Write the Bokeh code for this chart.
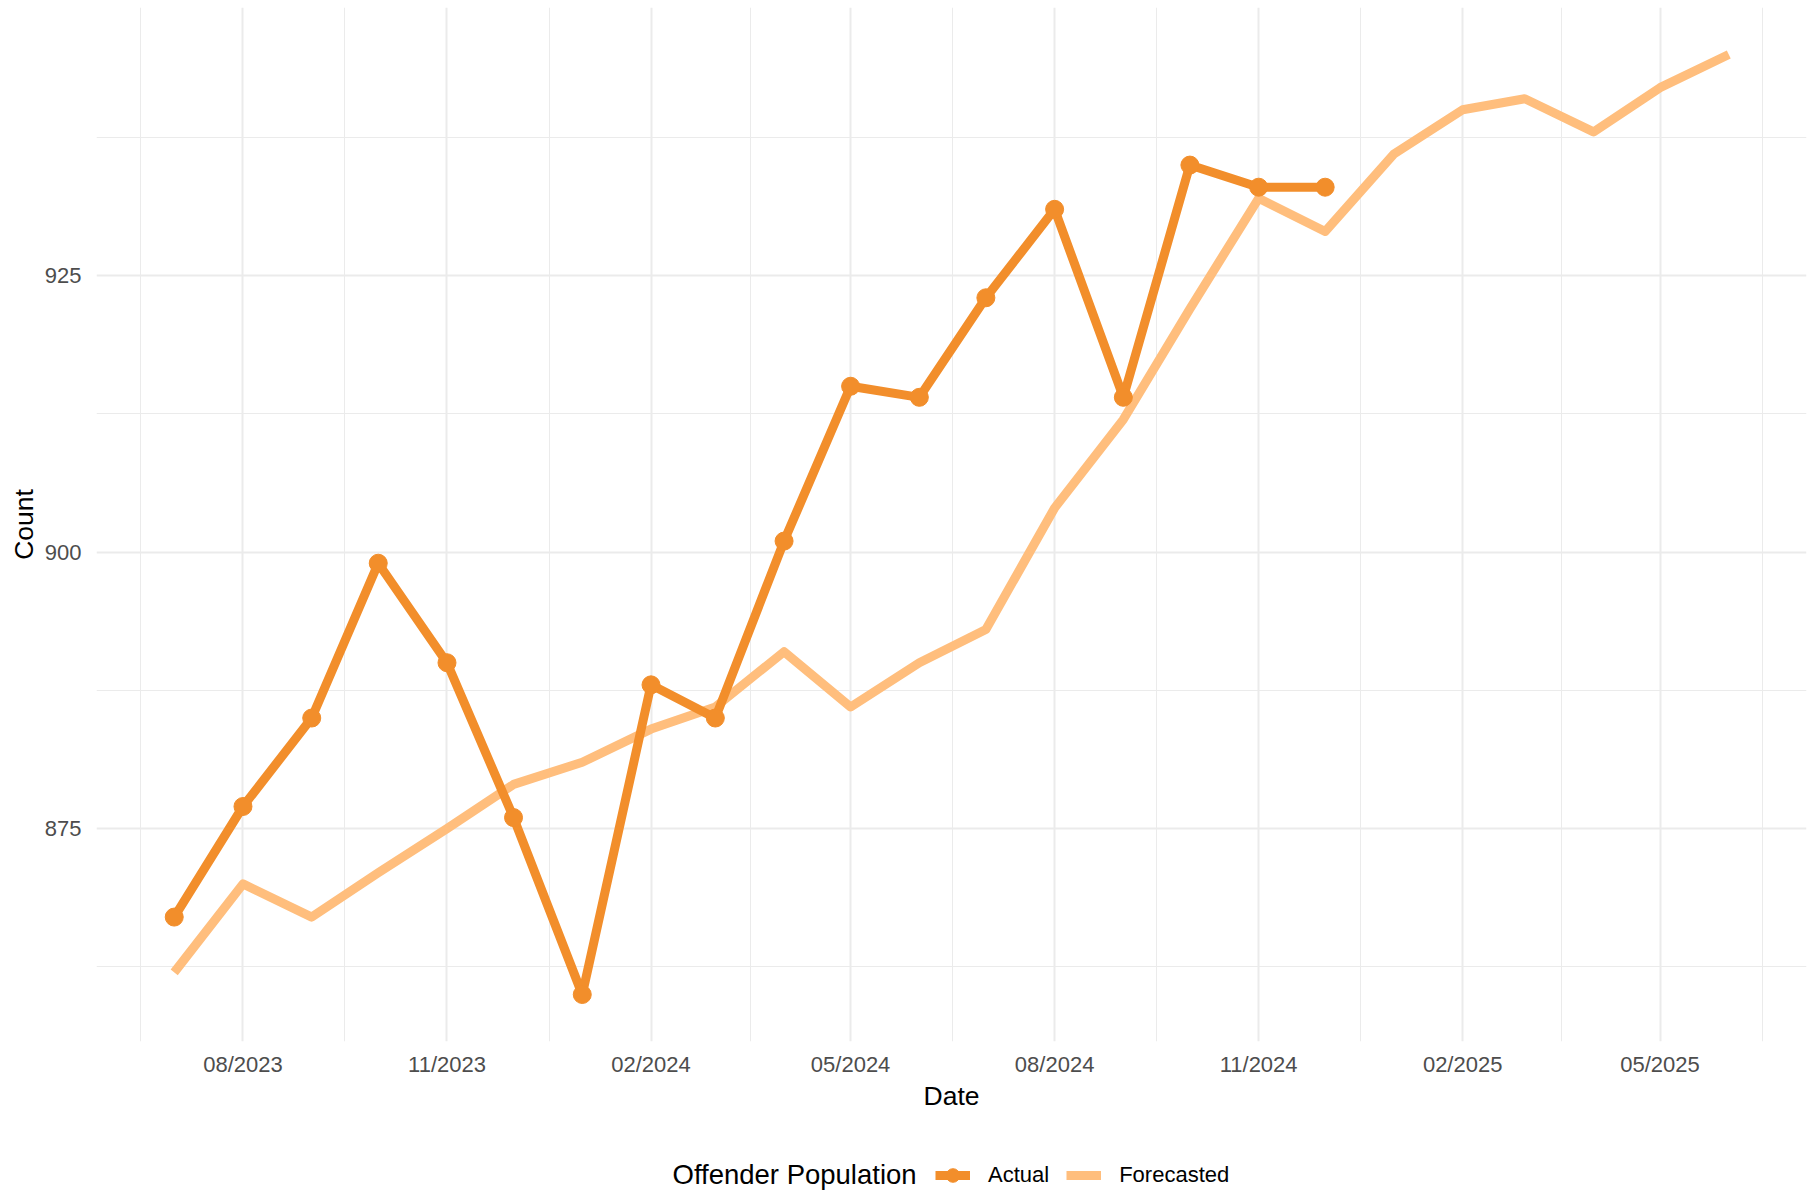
import pandas as pd
from bokeh.plotting import figure
from bokeh.layouts import column
from bokeh.models import (FixedTicker, DatetimeTickFormatter, Legend, LegendItem,
                          Label, Range1d, ColumnDataSource)
from bokeh.embed import file_html
from bokeh.resources import INLINE

# ---------------- data ----------------
actual_months = ["2023-07", "2023-08", "2023-09", "2023-10", "2023-11", "2023-12",
                 "2024-01", "2024-02", "2024-03", "2024-04", "2024-05", "2024-06",
                 "2024-07", "2024-08", "2024-09", "2024-10", "2024-11", "2024-12"]
actual_counts = [867, 877, 885, 899, 890, 876, 860, 888, 885, 901, 915, 914,
                 923, 931, 914, 935, 933, 933]

forecast_months = ["2023-07", "2023-08", "2023-09", "2023-10", "2023-11", "2023-12",
                   "2024-01", "2024-02", "2024-03", "2024-04", "2024-05", "2024-06",
                   "2024-07", "2024-08", "2024-09", "2024-10", "2024-11", "2024-12",
                   "2025-01", "2025-02", "2025-03", "2025-04", "2025-05", "2025-06"]
forecast_counts = [862, 870, 867, 871, 875, 879, 881, 884, 886, 891, 886, 890,
                   893, 904, 912, 922, 932, 929, 936, 940, 941, 938, 942, 945]

x_break_dates = ["2023-05-01", "2023-08-01", "2023-11-01", "2024-02-01", "2024-05-01",
                 "2024-08-01", "2024-11-01", "2025-02-01", "2025-05-01", "2025-08-01"]
x_break_labels = ["05/2023", "08/2023", "11/2023", "02/2024", "05/2024",
                  "08/2024", "11/2024", "02/2025", "05/2025", "08/2025"]
y_ticks = [875, 900, 925]
y_minor_ticks = [862.5, 887.5, 912.5, 937.5]

series_names = ["Actual", "Forecasted"]
legend_title = "Offender Population"

# ---------------- styles ----------------
ACTUAL_COLOR = "#F28E2B"
FORECAST_COLOR = "#FFBE7D"
GRID = "#EBEBEB"
FONT = "Liberation Sans"
LW = 9
DOT = 18


def to_ms(d):
    return pd.Timestamp(d).value // 10**6


act_dates = pd.to_datetime(actual_months)
fc_dates = pd.to_datetime(forecast_months)

src_a = ColumnDataSource(dict(x=act_dates, y=actual_counts))
src_f = ColumnDataSource(dict(x=fc_dates, y=forecast_counts))

# ggplot-like 5% expansion
span = fc_dates.max() - fc_dates.min()
x0 = fc_dates.min() - span * 0.05
x1 = fc_dates.max() + span * 0.05
all_y = actual_counts + forecast_counts
yspan = max(all_y) - min(all_y)
y0 = min(all_y) - 0.05 * yspan
y1 = max(all_y) + 0.05 * yspan

W = 1807
H_MAIN = 1140
H_LEG = 52
FRAME_LEFT = 96

p = figure(width=W, height=H_MAIN, x_axis_type="datetime",
           x_range=Range1d(x0, x1), y_range=Range1d(y0, y1),
           output_backend="svg", toolbar_location=None,
           min_border_left=FRAME_LEFT, min_border_right=1,
           min_border_top=7, min_border_bottom=H_MAIN - 1041)
p.outline_line_color = None
p.background_fill_color = "white"
p.border_fill_color = "white"

major_ms = [to_ms(d) for d in x_break_dates]
minor_ms = [(a + b) / 2 for a, b in zip(major_ms[:-1], major_ms[1:])]
p.xaxis.ticker = FixedTicker(ticks=major_ms, minor_ticks=minor_ms)
p.xaxis.formatter = DatetimeTickFormatter(
    milliseconds="%m/%Y", seconds="%m/%Y", minsec="%m/%Y", minutes="%m/%Y",
    hourmin="%m/%Y", hours="%m/%Y", days="%m/%Y", months="%m/%Y", years="%m/%Y")
p.xaxis.major_label_overrides = {float(m): lab for m, lab in zip(major_ms, x_break_labels)}
p.yaxis.ticker = FixedTicker(ticks=y_ticks, minor_ticks=y_minor_ticks)

for ax in (p.xaxis[0], p.yaxis[0]):
    ax.axis_line_color = None
    ax.major_tick_line_color = None
    ax.minor_tick_line_color = None
    ax.major_tick_out = 0
    ax.major_tick_in = 0
    ax.minor_tick_out = 0
    ax.minor_tick_in = 0
    ax.major_label_text_font = FONT
    ax.major_label_text_font_size = "22px"
    ax.major_label_text_color = "#4D4D4D"
    ax.axis_label_text_font = FONT
    ax.axis_label_text_font_size = "26.5px"
    ax.axis_label_text_font_style = "normal"
    ax.axis_label_text_color = "black"

p.xaxis.axis_label = "Date"
p.yaxis.axis_label = "Count"
p.xaxis.major_label_standoff = 10
p.xaxis.axis_label_standoff = 1
p.yaxis.major_label_standoff = 15
p.yaxis.axis_label_standoff = 3

for g in (p.xgrid[0], p.ygrid[0]):
    g.grid_line_color = GRID
    g.grid_line_width = 2
    g.minor_grid_line_color = GRID
    g.minor_grid_line_width = 1

p.line("x", "y", source=src_f, line_color=FORECAST_COLOR, line_width=LW,
       line_join="round")
p.line("x", "y", source=src_a, line_color=ACTUAL_COLOR, line_width=LW,
       line_join="round")
p.scatter("x", "y", source=src_a, marker="circle", size=DOT,
          fill_color=ACTUAL_COLOR, line_color=ACTUAL_COLOR)

# ---------------- legend strip (frame aligned with the main frame) ----------------
# Its ranges keep the series far outside the visible strip: only legend keys show.
lg = figure(width=W, height=H_LEG, x_axis_type="datetime",
            x_range=Range1d(x0, x1), y_range=Range1d(0, 1),
            output_backend="svg", toolbar_location=None,
            x_axis_location=None, y_axis_location=None,
            min_border_left=FRAME_LEFT, min_border_right=1,
            min_border_top=0, min_border_bottom=0)
lg.outline_line_color = None
lg.xgrid.visible = False
lg.ygrid.visible = False
k_f_line = lg.line("x", "y", source=src_f, line_color=FORECAST_COLOR, line_width=LW)
k_a_line = lg.line("x", "y", source=src_a, line_color=ACTUAL_COLOR, line_width=LW)
k_a_pt = lg.scatter("x", "y", source=src_a, marker="circle", size=DOT,
                    fill_color=ACTUAL_COLOR, line_color=ACTUAL_COLOR)

legend = Legend(items=[LegendItem(label=series_names[0], renderers=[k_a_line, k_a_pt]),
                       LegendItem(label=series_names[1], renderers=[k_f_line])],
                location=(935 - FRAME_LEFT, 0), orientation="horizontal",
                border_line_color=None, background_fill_alpha=0,
                padding=0, margin=0, spacing=17, label_standoff=18,
                glyph_width=35, glyph_height=34, label_height=22,
                label_text_font=FONT, label_text_font_size="22px",
                label_text_color="black", label_text_baseline="middle")
lg.add_layout(legend, "center")

title_lbl = Label(x=672 - FRAME_LEFT, y=18.5, x_units="screen", y_units="screen",
                  text=legend_title, text_font=FONT,
                  text_font_size="27.5px", text_color="black",
                  text_baseline="middle", text_align="left")
lg.add_layout(title_lbl)

layout = column(p, lg, spacing=0)
open("out.html", "w").write(file_html(layout, INLINE))
